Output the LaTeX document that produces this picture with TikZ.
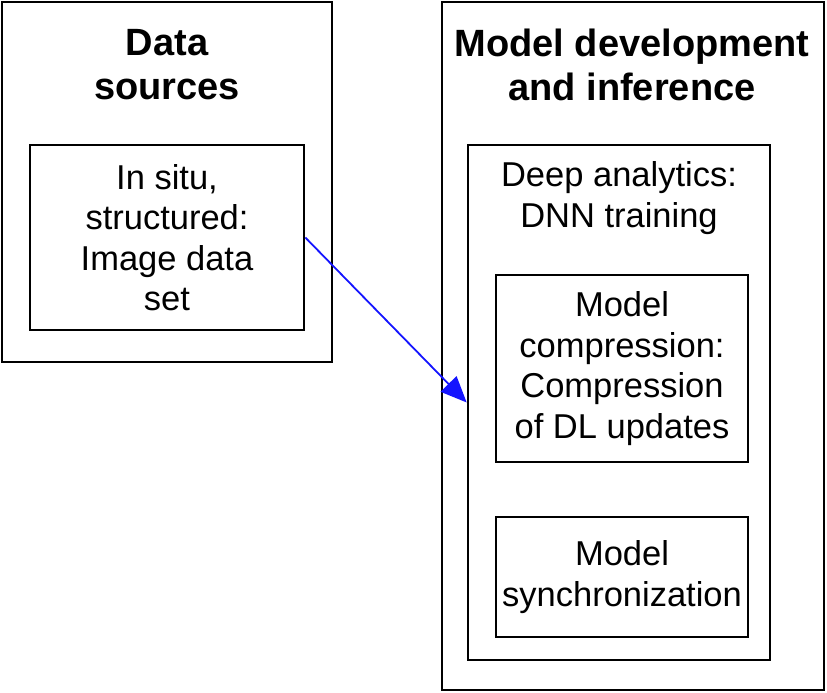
\documentclass[tikz,border=0pt]{standalone}
\usepackage{fontspec}
\setmainfont{Liberation Sans}
\usetikzlibrary{arrows.meta}
\begin{document}
\begin{tikzpicture}[x=1pt,y=-1pt,
  box/.style={draw=black, line width=2.6pt, rectangle, inner sep=0pt, fill=white},
  title/.style={align=center, inner sep=0pt, font=\fontsize{38}{44}\selectfont\bfseries},
  body/.style={align=center, inner sep=0pt, font=\fontsize{34.5}{40.5}\selectfont},
  flow/.style={draw={rgb,255:red,20;green,20;blue,255}, line width=1.8pt,
    -{Triangle[length=26pt,width=22pt]}}]
\useasboundingbox (0,0) rectangle (827,693);
% left container
\node[box, minimum width=330pt, minimum height=360pt] (ds) at (167,182) {};
\node[title] (dstitle) at (167,65) {Data\\sources};
\node[box, minimum width=274pt, minimum height=185pt, body] (src) at (167,237.5)
  {In situ,\\structured:\\Image data\\set};
% right container
\node[box, minimum width=382pt, minimum height=688pt] (md) at (633,346) {};
\node[title] (mdtitle) at (632,65) {Model development\\and inference};
\node[box, minimum width=302pt, minimum height=515pt] (mid) at (619,402.5) {};
\node[body] (midtitle) at (619,198) {Deep analytics:\\DNN training};
\node[box, minimum width=252pt, minimum height=187pt, body] (comp) at (622,368.5)
  {Model\\compression:\\Compression\\of DL updates};
\node[box, minimum width=252pt, minimum height=120pt, body] (sync) at (622,577)
  {Model\\synchronization};
% arrow
\draw[flow] (src.east) -- (mid.west);
\end{tikzpicture}
\end{document}
